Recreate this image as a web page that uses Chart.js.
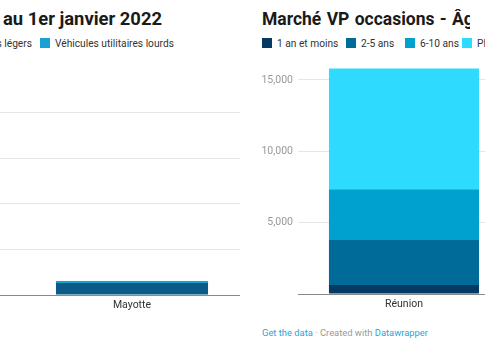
<!DOCTYPE html>
<html>
<head>
<meta charset="utf-8">
<script src="https://cdn.jsdelivr.net/npm/chart.js@4"></script>
<style>
  html, body { margin: 0; padding: 0; background: #fff; }
  body { width: 485px; height: 360px; overflow: hidden; position: relative; font-family: Roboto, "Noto Sans", sans-serif; }
  .title { position: absolute; font-weight: 700; color: #1a1a1a; white-space: nowrap; overflow: hidden; }
  .legend { position: absolute; top: 37px; height: 12px; white-space: nowrap; font-size: 10.2px; color: #333; }
  .item { position: absolute; top: 0; height: 12px; display: flex; align-items: center; }
  .box { width: 10px; height: 10px; margin-right: 5px; flex: none; }
  .footer { position: absolute; left: 262px; top: 327px; font-size: 9.4px; color: #999; white-space: nowrap; }
  .footer a { color: #2ea3d6; text-decoration: none; }
  canvas { position: absolute; }
</style>
</head>
<body>
<div class="title" style="right:323px; top:8px; font-size:18.4px;">au 1er janvier 2022</div>
<div class="legend" id="legLeft" style="left:0; width:485px;"></div>
<div class="title" style="left:262px; top:9px; width:208px; font-size:17.5px; word-spacing:1px;">Marché VP occasions - Âge</div>
<div class="legend" id="legRight" style="left:0; width:485px;"></div>
<canvas id="left" width="480" height="260" style="left:-240px; top:60px;"></canvas>
<canvas id="right" width="260" height="260" style="left:250px; top:60px;"></canvas>
<div class="footer"><a>Get the data</a> · Created with <a>Datawrapper</a></div>
<script>
// ---- Left chart data (parc au 1er janvier 2022) ----
const leftCategories = ["La Réunion", "Mayotte"];
const leftSeriesNames = ["Véhicules utilitaires légers", "Véhicules utilitaires lourds"];
const leftLegers = [null, 26400];
const leftLourds = [null, 4400];
const leftColors = ["#0c5a86", "#1aa1d3"];
const leftTicks = [0, 100000, 200000, 300000, 400000];

// ---- Right chart data (Marché VP occasions - Âge) ----
const rightCategories = ["Réunion"];
const rightSeriesNames = ["1 an et moins", "2-5 ans", "6-10 ans", "Plus de 10 ans"];
const rightUnAn = [630];
const rightDeuxCinq = [3160];
const rightSixDix = [3550];
const rightPlusDix = [8460];
const rightColors = ["#053a62", "#006b99", "#00a0cf", "#2fdaff"];
const rightTicks = [0, 5000, 10000, 15000];

// legend layout (box left edges, px)
const rightLegendX = [262, 346, 405, 462];

function item(name, color, style) {
  return '<div class="item" style="' + style + '"><div class="box" style="background:' + color + '"></div><span>' + name + '</span></div>';
}
document.getElementById('legLeft').innerHTML =
  item(leftSeriesNames[0], leftColors[0], 'right:453px;') +
  item(leftSeriesNames[1], leftColors[1], 'left:40px;');
document.getElementById('legRight').innerHTML =
  rightSeriesNames.map((n, i) => item(n, rightColors[i], 'left:' + rightLegendX[i] + 'px;')).join('');

const fmt = v => v === 0 ? '' : v.toLocaleString('en-US');
const tickFont = { family: 'Roboto', size: 10.5 };

function baseOptions(max, tickValues, padTop, xHeight) {
  return {
    responsive: false,
    animation: false,
    layout: { padding: { top: padTop, left: 0, right: 0, bottom: 0 } },
    plugins: { legend: { display: false }, tooltip: { enabled: false }, title: { display: false } },
    scales: {
      x: {
        stacked: true,
        grid: { display: false, drawTicks: false },
        border: { display: true, color: '#8a8a8a', width: 1 },
        ticks: { color: '#333', font: { family: 'Roboto', size: 10.5 }, padding: 4, maxRotation: 0 },
        afterFit: s => { s.height = xHeight; s.paddingLeft = 0; s.paddingRight = 0; }
      },
      y: {
        stacked: true,
        bounds: 'data',
        min: 0, max: max,
        grid: { color: '#e6e6e6', lineWidth: 1, drawTicks: false },
        border: { display: false },
        ticks: { color: '#999', font: tickFont, padding: 5, callback: fmt },
        afterBuildTicks: s => { s.ticks = tickValues.map(v => ({ value: v })); },
        afterFit: s => { s.width = 48; s.paddingTop = 0; s.paddingBottom = 0; }
      }
    }
  };
}

function ds(label, data, color, bp) {
  return { label: label, data: data, backgroundColor: color, categoryPercentage: 1, barPercentage: bp, borderWidth: 0 };
}

new Chart(document.getElementById('left'), {
  type: 'bar',
  data: {
    labels: leftCategories,
    datasets: [
      ds(leftSeriesNames[0], leftLegers, leftColors[0], 0.704),
      ds(leftSeriesNames[1], leftLourds, leftColors[1], 0.704)
    ]
  },
  options: baseOptions(450000, leftTicks, 30, 25)
});

new Chart(document.getElementById('right'), {
  type: 'bar',
  data: {
    labels: rightCategories,
    datasets: [
      ds(rightSeriesNames[0], rightUnAn, rightColors[0], 0.708),
      ds(rightSeriesNames[1], rightDeuxCinq, rightColors[1], 0.708),
      ds(rightSeriesNames[2], rightSixDix, rightColors[2], 0.708),
      ds(rightSeriesNames[3], rightPlusDix, rightColors[3], 0.708)
    ]
  },
  options: baseOptions(16000, rightTicks, 5.7, 26)
});
</script>
</body>
</html>
